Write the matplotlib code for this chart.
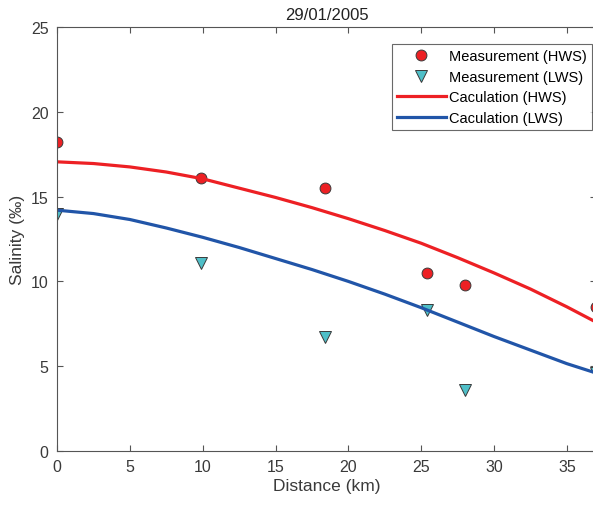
import numpy as np
import matplotlib
matplotlib.use('Agg')
import matplotlib.pyplot as plt

plt.rcParams['font.family'] = ['Liberation Sans', 'DejaVu Sans']

# measurements
dist_meas = [0, 9.9, 18.4, 25.4, 28.0, 37.0]
sal_hws = [18.2, 16.1, 15.5, 10.5, 9.8, 8.5]
sal_lws = [14.0, 11.1, 6.7, 8.3, 3.6, 4.6]

# calculated profiles
dist_calc = [0, 2.5, 5, 7.5, 10, 12.5, 15, 17.5, 20, 22.5, 25, 27.5, 30, 32.5, 35, 37]
calc_hws = [17.05, 16.95, 16.75, 16.45, 16.05, 15.5, 14.95, 14.35, 13.7, 13.0,
            12.25, 11.4, 10.5, 9.55, 8.5, 7.6]
calc_lws = [14.2, 14.0, 13.65, 13.15, 12.6, 12.0, 11.35, 10.7, 10.0, 9.25,
            8.45, 7.6, 6.75, 5.95, 5.15, 4.6]

axcol = '#555555'

fig = plt.figure(figsize=(5.93, 5.06), dpi=100)
ax = fig.add_axes([57/593, 54/506, 539/593, 424/506])

ax.plot(dist_meas, sal_hws, 'o', color='#ED2024', markeredgecolor='#3a3a3a',
        markeredgewidth=0.7, markersize=7.8, label='Measurement (HWS)')
ax.plot(dist_meas, sal_lws, 'v', color='#4FBFC8', markeredgecolor='#3a3a3a',
        markeredgewidth=0.7, markersize=8.2, label='Measurement (LWS)')
ax.plot(dist_calc, calc_hws, '-', color='#ED2024', lw=2.3, label='Caculation (HWS)')
ax.plot(dist_calc, calc_lws, '-', color='#2155A8', lw=2.3, label='Caculation (LWS)')

ax.set_xlim(0, 37)
ax.set_ylim(0, 25)
ax.set_xticks([0, 5, 10, 15, 20, 25, 30, 35])
ax.set_yticks([0, 5, 10, 15, 20, 25])
ax.tick_params(direction='in', top=True, right=True, length=4, width=0.8,
               colors=axcol, labelsize=11.5, labelcolor='#3a3a3a', pad=6)
for s in ax.spines.values():
    s.set_color(axcol)
    s.set_linewidth(0.8)

ax.set_xlabel('Distance (km)', fontsize=12.5, color='#3a3a3a', labelpad=3)
ax.set_ylabel('Salinity (‰)', fontsize=12.5, color='#3a3a3a', labelpad=4)
ax.set_title('29/01/2005', fontsize=12, color='#222222', pad=6)

leg = ax.legend(loc='upper right', bbox_to_anchor=(535/539, 407/424), fontsize=10.5,
                frameon=True, fancybox=False, edgecolor='#444444',
                handlelength=3.3, handletextpad=0.25, borderpad=0.35,
                labelspacing=0.45, borderaxespad=0)
leg.get_frame().set_linewidth(0.8)

fig.savefig('out.png', dpi=100)
